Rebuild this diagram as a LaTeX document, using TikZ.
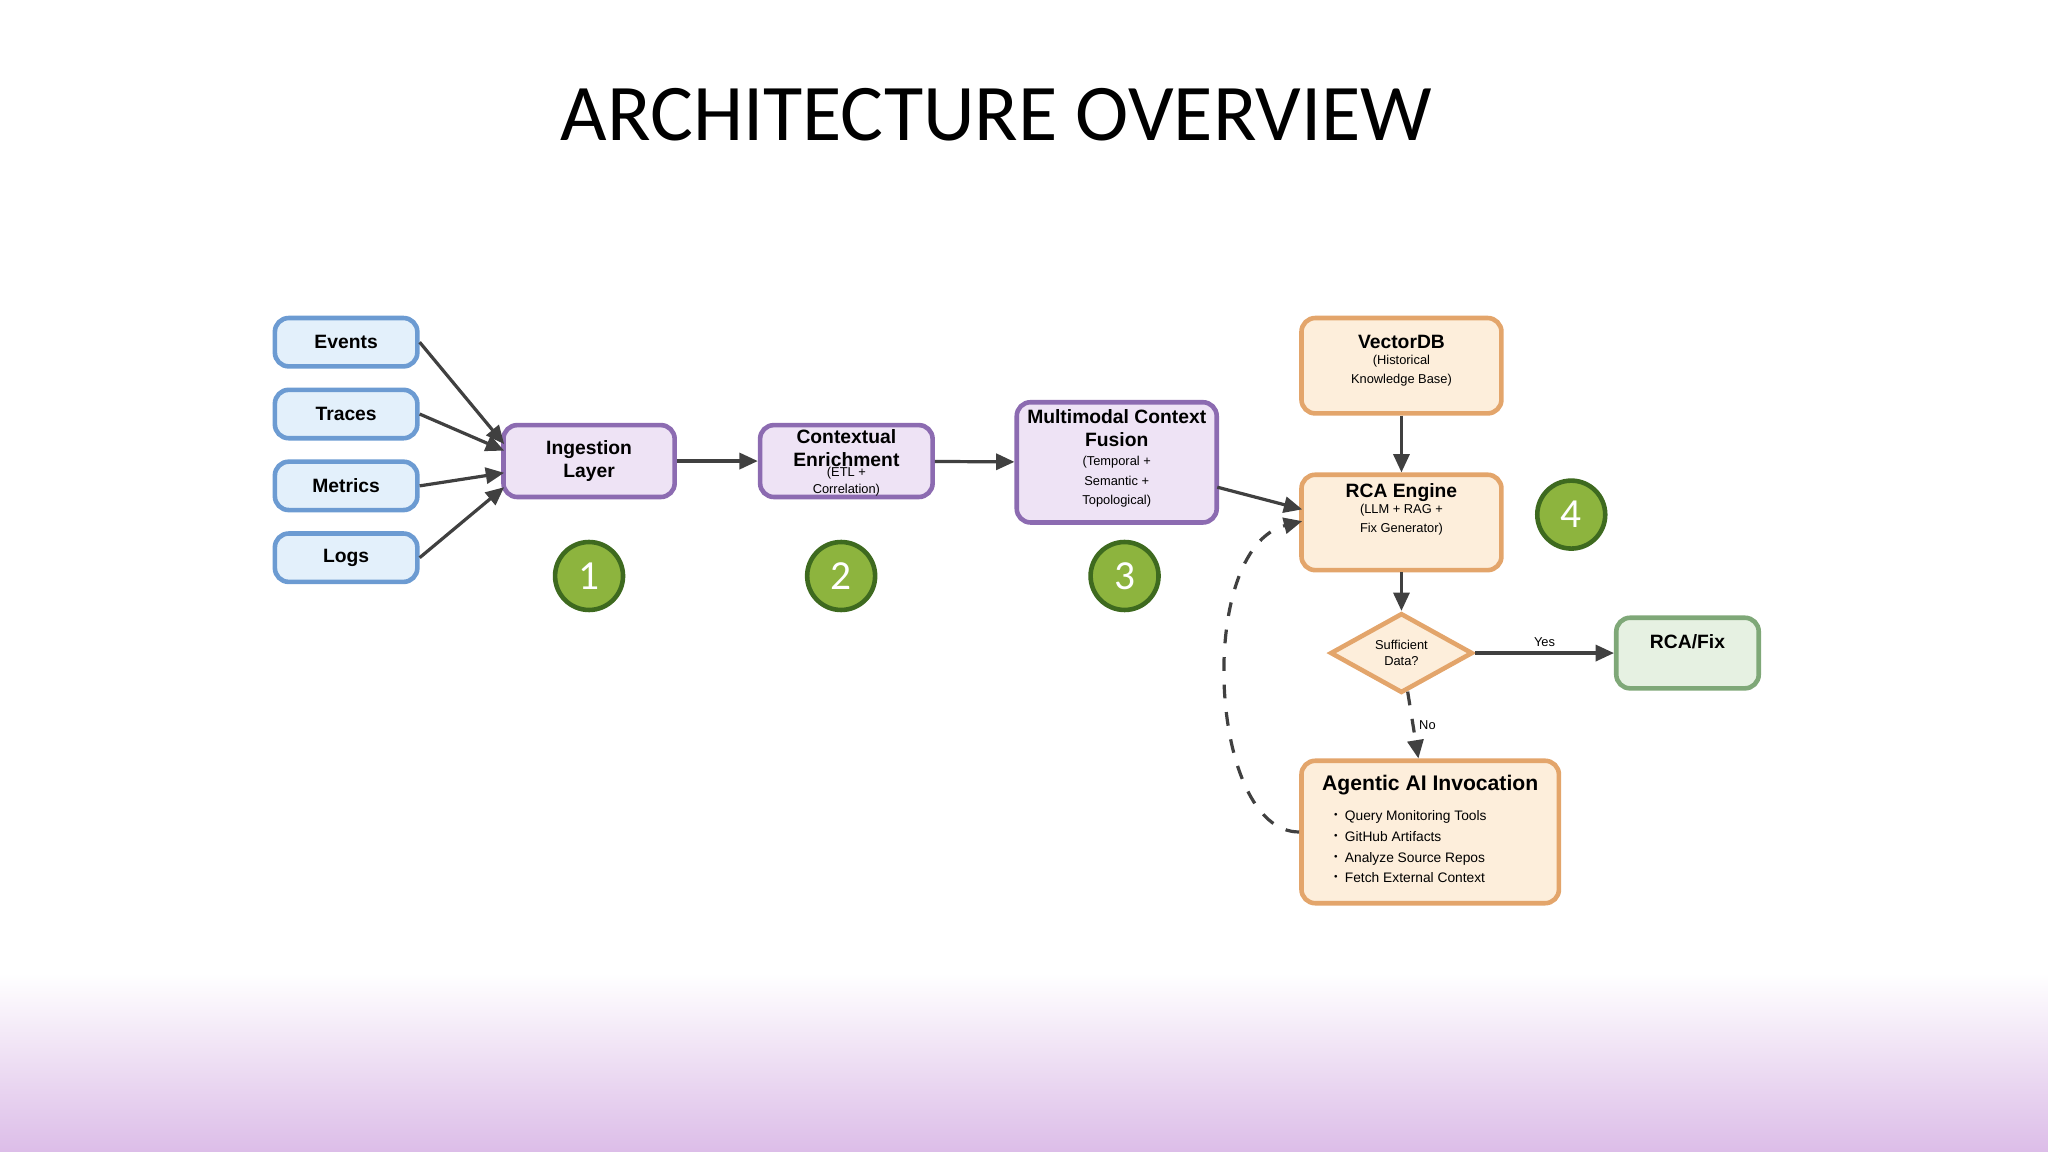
\documentclass[tikz,border=0pt]{standalone}
\usepackage{fontspec}
\setmainfont{Liberation Sans}
\newfontfamily\titlefont{Carlito}
\usetikzlibrary{arrows.meta,shapes.geometric}
\definecolor{bluefill}{HTML}{E3F0FB}
\definecolor{blueline}{HTML}{6C9BD2}
\definecolor{purpfill}{HTML}{EEE3F5}
\definecolor{purpline}{HTML}{8C6BB1}
\definecolor{orfill}{HTML}{FDEEDB}
\definecolor{orline}{HTML}{E3A56B}
\definecolor{grfill}{HTML}{E6F1E2}
\definecolor{grline}{HTML}{7FA878}
\definecolor{numfill}{HTML}{8DB43E}
\definecolor{numline}{HTML}{3E6A1F}
\definecolor{bandpurple}{HTML}{DCBDE8}
\newcommand{\bigt}{\fontsize{4.2}{5}\selectfont\bfseries}
\newcommand{\smallt}{\fontsize{2.8}{4.2}\selectfont\mdseries}
\tikzset{
  box/.style={draw, rounded corners=3pt, line width=1pt, align=center, inner sep=1pt},
  src/.style={box, fill=bluefill, draw=blueline, minimum width=1.09cm, minimum height=0.37cm, font=\bigt},
  stage/.style={box, fill=purpfill, draw=purpline},
  rca/.style={box, fill=orfill, draw=orline},
  num/.style={circle, draw=numline, fill=numfill, line width=1pt, minimum size=0.52cm, inner sep=0pt, text=white, font=\titlefont\fontsize{9}{10}\selectfont},
  arr/.style={-{Triangle[length=4pt,width=3.5pt]}, line width=0.7pt, draw=black!75},
  sm/.style={font=\fontsize{2.8}{3.6}\selectfont},
  lbl/.style={inner sep=0pt, align=center},
}
\begin{document}
\begin{tikzpicture}[x=0.01cm,y=-0.01cm]
\useasboundingbox (0,0) rectangle (1568,882);
\shade[top color=white, bottom color=bandpurple] (0,745) rectangle (1568,882);
\node[font=\titlefont\fontsize{17.5}{20}\selectfont] (title) at (763,88) {ARCHITECTURE OVERVIEW};

% sources
\node[src] (ev) at (265,262) {Events};
\node[src] (tr) at (265,317) {Traces};
\node[src] (me) at (265,372) {Metrics};
\node[src] (lo) at (265,427) {Logs};

% stages
\node[stage, minimum width=1.31cm, minimum height=0.55cm, font=\bigt] (ing) at (451,353) {Ingestion\\Layer};
\node[stage, minimum width=1.32cm, minimum height=0.55cm] (ctx) at (648,353) {};
\node[lbl, font=\bigt] (ctxa) at (648,343) {Contextual\\Enrichment};
\node[lbl, font=\fontsize{2.8}{2.6}\selectfont] (ctxb) at (648,369) {(ETL +\\Correlation)};
\node[stage, minimum width=1.53cm, minimum height=0.92cm] (mm) at (855,354) {};
\node[lbl, font=\bigt] (mma) at (855,328) {Multimodal Context\\Fusion};
\node[lbl, font=\smallt] (mmb) at (855,369) {(Temporal +\\Semantic +\\Topological)};

% RCA part
\node[rca, minimum width=1.53cm, minimum height=0.73cm] (vdb) at (1073,280) {};
\node[lbl, font=\bigt] (vdba) at (1073,262) {VectorDB};
\node[lbl, font=\smallt] (vdbb) at (1073,284) {(Historical\\Knowledge Base)};
\node[rca, minimum width=1.53cm, minimum height=0.73cm] (eng) at (1073,400) {};
\node[lbl, font=\bigt] (enga) at (1073,377) {RCA Engine};
\node[lbl, font=\smallt] (engb) at (1073,398) {(LLM + RAG +\\Fix Generator)};
\node[diamond, draw=orline, fill=orfill, line width=1pt, minimum width=1.09cm, minimum height=0.61cm, inner sep=0pt, aspect=1.8, align=center, sm] (dec) at (1073,500) {Sufficient\\Data?};
\node[box, fill=grfill, draw=grline, minimum width=1.09cm, minimum height=0.54cm] (fix) at (1292,500) {};
\node[lbl, font=\bigt] (fixt) at (1292,491) {RCA/Fix};
\node[rca, minimum width=1.97cm, minimum height=1.09cm] (ag) at (1095,637) {};
\node[lbl, font=\fontsize{4.6}{5.5}\selectfont\bfseries] (agt) at (1095,601) {Agentic AI Invocation};
\node[lbl, align=left, anchor=north west, font=\fontsize{3}{4.5}\selectfont] (agl) at (1018,619) {$\cdot$ Query Monitoring Tools\\$\cdot$ GitHub Artifacts\\$\cdot$ Analyze Source Repos\\$\cdot$ Fetch External Context};

% numbers
\node[num] (n1) at (451,441) {1};
\node[num] (n2) at (644,441) {2};
\node[num] (n3) at (861,441) {3};
\node[num] (n4) at (1203,394) {4};

% connectors
\coordinate (i1) at (386,340);
\coordinate (i2) at (386,345);
\coordinate (i3) at (386,362);
\coordinate (i4) at (386,373);
\draw[arr] (ev.east) -- (i1);
\draw[arr] (tr.east) -- (i2);
\draw[arr] (me.east) -- (i3);
\draw[arr] (lo.east) -- (i4);
\draw[arr] (ing) -- (ctx);
\draw[arr] (ctx) -- (mm);
\coordinate (m1) at (932,373);
\coordinate (e1) at (997,390);
\coordinate (e2) at (997,399);
\draw[arr] (m1) -- (e1);
\draw[arr] (vdb) -- (eng);
\draw[arr] (eng) -- (dec);
\draw[arr] (dec) -- node[above, sm, pos=0.5, inner sep=1pt] (yes) {Yes} (fix);
\draw[arr, dashed] (dec) -- node[right, sm, inner sep=1pt] (no) {No} (ag);
\draw[arr, dashed] (ag.west) .. controls (925,637) and (915,420) .. (e2);
\end{tikzpicture}
\end{document}
